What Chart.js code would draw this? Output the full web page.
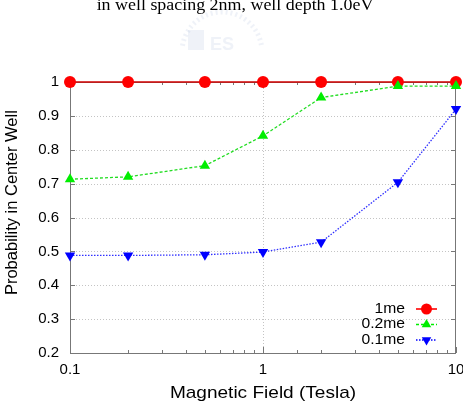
<!DOCTYPE html>
<html><head><meta charset="utf-8">
<script src="https://cdn.jsdelivr.net/npm/chart.js@4/dist/chart.umd.min.js"></script>
<style>html,body{margin:0;padding:0;background:#fff;overflow:hidden}#wrap{width:463px;height:413px;position:relative}</style>
</head><body><div id="wrap"><canvas id="c" width="463" height="413"></canvas></div>
<script>
// ---- data ----
const fieldTesla = [0.1, 0.2, 0.5, 1, 2, 5, 10];
const prob1me   = [1, 1, 1, 1, 1, 1, 1];
const prob02me  = [0.713, 0.72, 0.753, 0.841, 0.954, 0.988, 0.988];
const prob01me  = [0.488, 0.488, 0.49, 0.498, 0.527, 0.704, 0.92];
const seriesNames = ['1me', '0.2me', '0.1me'];
const xTickLabels = [0.1, 1, 10];
const yMin = 0.2, yMax = 1, yStep = 0.1;
const titleText = 'in well spacing 2nm, well depth 1.0eV';
const xTitle = 'Magnetic Field (Tesla)';
const yTitle = 'Probability in Center Well';

const SANS = "'Liberation Sans', Arial, Helvetica, sans-serif";
const SERIF = "'Liberation Serif', 'Times New Roman', serif";
const STRETCH = 1.12;

const toPts = ys => fieldTesla.map((x, i) => ({x, y: ys[i]}));

const styles = [
  {line: '#d00000', fill: '#ff0000', dash: [], style: 'circle', rot: 0, lw: 1.6},
  {line: '#22dd22', fill: '#00ee00', dash: [3, 2], style: 'triangle', rot: 0, lw: 1.3},
  {line: '#3030ff', fill: '#0000ff', dash: [1.5, 1.5], style: 'triangle', rot: 180, lw: 1.3}
];
const seriesData = [prob1me, prob02me, prob01me];

function stretchedText(ctx, text, x, y, font, align, base) {
  ctx.save();
  ctx.translate(x, y);
  ctx.scale(STRETCH, 1);
  ctx.font = font;
  ctx.textAlign = align;
  ctx.textBaseline = base;
  ctx.fillStyle = '#000';
  ctx.fillText(text, 0, 0);
  ctx.restore();
}

const framePlugin = {
  id: 'frame',
  beforeDraw(chart) {
    const ctx = chart.ctx;
    ctx.save();
    ctx.fillStyle = '#fff';
    ctx.fillRect(0, 0, chart.width, chart.height);
    // faint watermark logo
    ctx.strokeStyle = 'rgba(180,195,225,0.22)';
    ctx.lineWidth = 5;
    ctx.setLineDash([2, 3]);
    ctx.beginPath();
    ctx.arc(222, 52, 40, Math.PI * 1.05, Math.PI * 1.95);
    ctx.stroke();
    ctx.setLineDash([]);
    ctx.fillStyle = 'rgba(180,195,225,0.22)';
    ctx.fillRect(188, 30, 16, 20);
    ctx.font = 'bold 18px ' + SANS;
    ctx.textAlign = 'center';
    ctx.textBaseline = 'alphabetic';
    ctx.fillText('ES', 222, 50);
    ctx.restore();
    // title (cut at top like the reference)
    stretchedText(ctx, titleText, 235, 10, '16px ' + SERIF, 'center', 'alphabetic');
  },
  beforeDatasetsDraw(chart) {
    const {ctx, chartArea: a, scales: {x, y}} = chart;
    ctx.save();
    // dotted grid
    ctx.strokeStyle = '#c4c4c4';
    ctx.lineWidth = 1;
    ctx.setLineDash([1, 2]);
    y.ticks.forEach(t => {
      if (t.value <= yMin + 1e-9 || t.value >= yMax - 1e-9) return;
      const py = Math.round(y.getPixelForValue(t.value)) + 0.5;
      ctx.beginPath(); ctx.moveTo(a.left, py); ctx.lineTo(a.right, py); ctx.stroke();
    });
    xTickLabels.forEach(v => {
      if (v <= x.min * 1.0001 || v >= x.max * 0.9999) return;
      const px = Math.round(x.getPixelForValue(v)) + 0.5;
      ctx.beginPath(); ctx.moveTo(px, a.top); ctx.lineTo(px, a.bottom); ctx.stroke();
    });
    ctx.setLineDash([]);
    // frame
    ctx.strokeStyle = '#777';
    ctx.lineWidth = 1;
    ctx.strokeRect(a.left + 0.5, a.top + 0.5, a.right - a.left - 1, a.bottom - a.top);
    // inward tick marks
    ctx.beginPath();
    x.ticks.forEach(t => {
      const major = xTickLabels.some(v => Math.abs(v - t.value) < 1e-6 * v);
      const len = major ? 6 : 3;
      const px = Math.round(x.getPixelForValue(t.value)) + 0.5;
      ctx.moveTo(px, a.bottom); ctx.lineTo(px, a.bottom - len);
      ctx.moveTo(px, a.top); ctx.lineTo(px, a.top + len);
    });
    y.ticks.forEach(t => {
      const py = Math.round(y.getPixelForValue(t.value)) + 0.5;
      ctx.moveTo(a.left, py); ctx.lineTo(a.left + 5, py);
      ctx.moveTo(a.right, py); ctx.lineTo(a.right - 5, py);
    });
    ctx.stroke();
    ctx.restore();
  },
  afterDatasetsDraw(chart) {
    const {ctx, chartArea: a} = chart;
    // axis titles
    stretchedText(ctx, xTitle, (a.left + a.right) / 2, a.bottom + 40, '17px ' + SANS, 'center', 'middle');
    ctx.save();
    ctx.translate(12, a.top + (a.bottom - a.top) * 0.445);
    ctx.rotate(-Math.PI / 2);
    ctx.font = '16.5px ' + SANS;
    ctx.textAlign = 'center';
    ctx.textBaseline = 'middle';
    ctx.fillStyle = '#000';
    ctx.fillText(yTitle, 0, 0);
    ctx.restore();
    // legend
    seriesNames.forEach((name, i) => {
      const s = styles[i];
      const ly = a.bottom - 44 + i * 15.5;
      stretchedText(ctx, name, a.right - 51, ly, '14px ' + SANS, 'right', 'middle');
      ctx.save();
      ctx.strokeStyle = s.fill;
      ctx.lineWidth = s.lw;
      ctx.setLineDash(s.dash);
      ctx.beginPath(); ctx.moveTo(a.right - 40, ly); ctx.lineTo(a.right - 19, ly); ctx.stroke();
      ctx.setLineDash([]);
      const cx = a.right - 29.5, r = 5.5;
      ctx.fillStyle = s.fill;
      ctx.beginPath();
      if (s.style === 'circle') {
        ctx.arc(cx, ly, r, 0, Math.PI * 2);
      } else {
        const dir = s.rot ? 1 : -1;
        ctx.moveTo(cx, ly + dir * r);
        ctx.lineTo(cx - r * 0.866, ly - dir * r * 0.5);
        ctx.lineTo(cx + r * 0.866, ly - dir * r * 0.5);
        ctx.closePath();
      }
      ctx.fill();
      ctx.restore();
    });
  }
};

new Chart(document.getElementById('c'), {
  type: 'line',
  data: {
    datasets: seriesNames.map((name, i) => ({
      label: name,
      data: toPts(seriesData[i]),
      borderColor: styles[i].line,
      backgroundColor: styles[i].fill,
      borderWidth: styles[i].lw,
      borderDash: styles[i].dash,
      pointStyle: styles[i].style,
      pointRotation: styles[i].rot,
      pointRadius: 6,
      pointBorderWidth: 0,
      pointBackgroundColor: styles[i].fill,
      pointBorderColor: styles[i].fill,
      tension: 0,
      clip: false,
      order: 3 - i
    }))
  },
  options: {
    responsive: false,
    devicePixelRatio: 1,
    animation: false,
    layout: {padding: {top: 82, right: 7, left: 0, bottom: 0}},
    plugins: {legend: {display: false}, tooltip: {enabled: false}, title: {display: false}},
    scales: {
      x: {
        type: 'logarithmic',
        min: 0.1, max: 10,
        grid: {display: false, drawTicks: false},
        border: {display: false},
        ticks: {
          autoSkip: false, maxRotation: 0, padding: 8,
          color: '#000', font: {family: SANS, size: 15},
          callback: v => {
            const m = xTickLabels.find(l => Math.abs(l - v) < 1e-6 * l);
            return m !== undefined ? String(m) : '';
          }
        },
        afterFit: s => { s.height = 60; s.paddingLeft = 0; s.paddingRight = 0; }
      },
      y: {
        min: yMin, max: yMax,
        grid: {display: false, drawTicks: false},
        border: {display: false},
        ticks: {
          stepSize: yStep, padding: 11,
          color: '#000', font: {family: SANS, size: 15},
          callback: v => String(+v.toFixed(1))
        },
        afterFit: s => { s.width = 70; s.paddingTop = 0; s.paddingBottom = 0; }
      }
    }
  },
  plugins: [framePlugin]
});
</script></body></html>
